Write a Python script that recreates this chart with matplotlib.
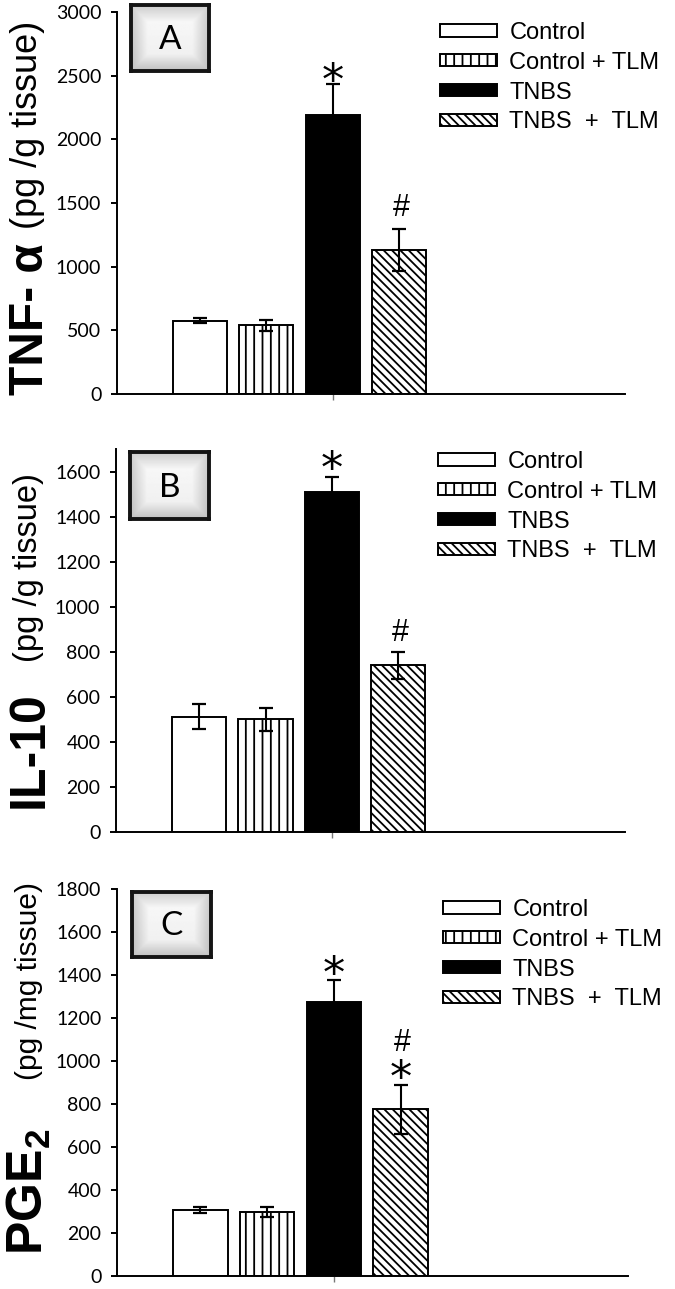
import matplotlib
matplotlib.use('Agg')
import matplotlib.pyplot as plt
import numpy as np

plt.rcParams['hatch.linewidth'] = 1.3
plt.rcParams['mathtext.fontset'] = 'custom'
plt.rcParams['mathtext.bf'] = 'Liberation Sans:bold'
plt.rcParams['mathtext.rm'] = 'Liberation Sans'
plt.rcParams['mathtext.sf'] = 'DejaVu Sans'

# ---------------- data ----------------
groups = ['Control', 'Control + TLM', 'TNBS', 'TNBS  +  TLM']
face_colors = ['white', 'white', 'black', 'white']
hatches = ['', '||', '', '\\\\\\\\']

tnf_mean = [575, 540, 2195, 1130]
tnf_err = [20, 45, 240, 165]
il10_mean = [512, 500, 1510, 740]
il10_err = [55, 52, 65, 60]
pge2_mean = [308, 297, 1275, 775]
pge2_err = [15, 22, 100, 113]

tnf_ticks = [0, 500, 1000, 1500, 2000, 2500, 3000]
il10_ticks = [0, 200, 400, 600, 800, 1000, 1200, 1400, 1600]
pge2_ticks = [0, 200, 400, 600, 800, 1000, 1200, 1400, 1600, 1800]

panel_letters = ['A', 'B', 'C']
bold_labels = ['TNF- α', 'IL-10', 'PGE$_\\mathbf{2}$']
unit_labels = ['(pg /g tissue)', '(pg /g tissue)', '(pg /mg tissue)']
# significance marks: (bar index, symbol, offset of glyph centre above error bar in px)
marks_A = [(2, '*', 12), (3, '#', 22)]
marks_B = [(2, '*', 17), (3, '#', 19)]
marks_C = [(2, '*', 15), (3, '#', 43), (3, '*', 16)]

# ---------------- layout ----------------
W, H = 675, 1289
DPI = 100
fig = plt.figure(figsize=(W / DPI, H / DPI), dpi=DPI)
PX2PT = 72.0 / DPI
STAR_SHIFT = 8.5   # px: glyph of '*' sits above the centre of its math box


def fx(px):
    return px / W


def fy(py):
    return 1 - py / H


def px_axes(left, top, right, bottom):
    return fig.add_axes([fx(left), fy(bottom), (right - left) / W, (bottom - top) / H])


panels = [
    dict(box=(117, 12, 625, 394), means=tnf_mean, errs=tnf_err, ticks=tnf_ticks, ylim=3000,
         marks=marks_A, letter_box=(131, 5, 209, 71), legend_xy=(440, 22),
         bold_start=395, bold_size=34.5, unit_start=229, unit_size=26),
    dict(box=(116, 449, 625, 832), means=il10_mean, errs=il10_err, ticks=il10_ticks, ylim=1700,
         marks=marks_B, letter_box=(130, 452, 209, 519), legend_xy=(438, 451),
         bold_start=808, bold_size=36, unit_start=662, unit_size=23.5),
    dict(box=(117, 889, 628, 1276), means=pge2_mean, errs=pge2_err, ticks=pge2_ticks, ylim=1800,
         marks=marks_C, letter_box=(132, 892, 211, 957), legend_xy=(443, 899),
         bold_start=1255, bold_size=36, unit_start=1080, unit_size=21.5),
]

x = np.arange(len(groups))
bar_w = 0.815

for i, p in enumerate(panels):
    ax = px_axes(*p['box'])
    handles = []
    for j in range(len(groups)):
        b = ax.bar(x[j], p['means'][j], width=bar_w, color=face_colors[j], edgecolor='black',
                   linewidth=1.4, hatch=hatches[j], label=groups[j], zorder=2)
        handles.append(b)
    ax.errorbar(x, p['means'], yerr=p['errs'], fmt='none', ecolor='black', elinewidth=1.5,
                capsize=4.7, capthick=1.6, zorder=3)
    ax.set_xlim(-1.25, 6.41)
    ax.set_ylim(0, p['ylim'])
    ax.set_yticks(p['ticks'])
    ax.set_xticks([2])
    ax.set_xticklabels([''])
    for s in ['top', 'right']:
        ax.spines[s].set_visible(False)
    for s in ['left', 'bottom']:
        ax.spines[s].set_linewidth(1.4)
    ax.tick_params(axis='y', direction='out', length=4.3, width=1.4, pad=7,
                   labelsize=14)
    ax.tick_params(axis='x', direction='out', length=4.3, width=1.0, color='#777777')
    for lab in ax.get_yticklabels():
        lab.set_fontfamily('Lato')

    # significance marks (mathtext so the box hugs the glyph)
    for (bi, sym, off) in p['marks']:
        top = p['means'][bi] + p['errs'][bi]
        if sym == '*':
            ax.annotate(r'$\mathsf{*}$', xy=(x[bi], top),
                        xytext=(0, (off - STAR_SHIFT) * PX2PT),
                        textcoords='offset points', ha='center', va='center', fontsize=32)
        else:
            ax.annotate(r'$\#$', xy=(x[bi], top), xytext=(1.5, off * PX2PT),
                        textcoords='offset points', ha='center', va='center', fontsize=22)

    # legend
    lx, ly = p['legend_xy']
    ax.legend(handles=handles, labels=groups, loc='upper left',
              bbox_to_anchor=(fx(lx), fy(ly)), bbox_transform=fig.transFigure,
              frameon=False, prop={'family': 'Liberation Sans', 'size': 17},
              handlelength=2.42, handleheight=0.42, handletextpad=0.52,
              labelspacing=0.33, borderpad=0, borderaxespad=0)

    # panel letter box with gradient
    l, t, r, b = p['letter_box']
    iax = fig.add_axes([fx(l), fy(b), (r - l) / W, (b - t) / H])
    ny, nx = 60, 70
    yy, xx = np.mgrid[0:1:ny * 1j, 0:1:nx * 1j]
    edge = np.minimum(np.minimum(xx, 1 - xx) * 1.2, np.minimum(yy, 1 - yy))
    shade = 0.80 + 0.18 * np.clip(edge / 0.25, 0, 1) - 0.05 * yy
    iax.imshow(shade, cmap='gray', vmin=0, vmax=1, aspect='auto', extent=(0, 1, 0, 1))
    iax.set_xticks([])
    iax.set_yticks([])
    for s in iax.spines.values():
        s.set_linewidth(2.8)
        s.set_color('#141414')
    iax.text(0.5, 0.47, panel_letters[i], ha='center', va='center', fontsize=24,
             family='Lato', transform=iax.transAxes)

    # y labels (two parts)
    fig.text(fx(43), fy(p['bold_start']), bold_labels[i], rotation=90, rotation_mode='anchor',
             ha='left', va='baseline', fontsize=p['bold_size'], fontweight='bold',
             family='Liberation Sans')
    fig.text(fx(37), fy(p['unit_start']), unit_labels[i], rotation=90, rotation_mode='anchor',
             ha='left', va='baseline', fontsize=p['unit_size'], family='Liberation Sans')

fig.savefig('out.png', dpi=DPI)
